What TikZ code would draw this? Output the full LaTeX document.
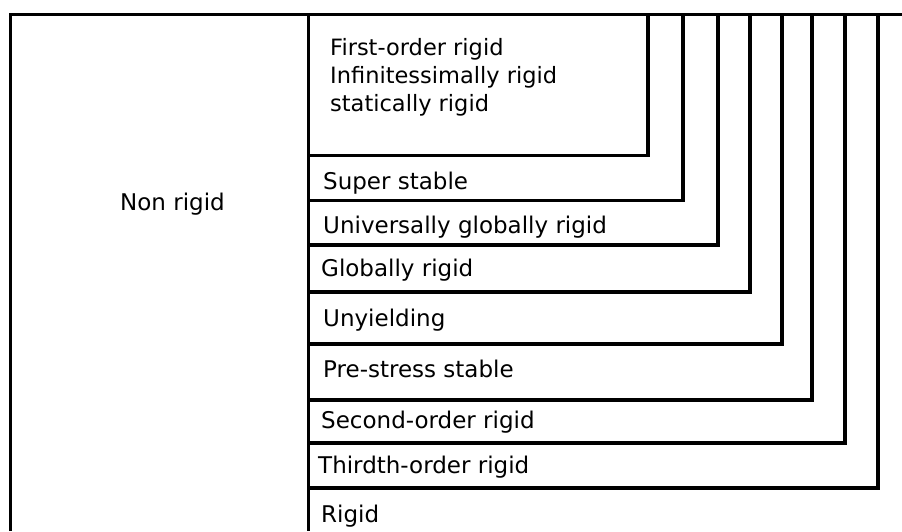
\documentclass[tikz,border=0pt]{standalone}
\usepackage{fontspec}
\setmainfont{DejaVu Sans}
\begin{document}
\begin{tikzpicture}[x=1pt,y=-1pt,
  frame/.style={line width=3.3pt,line join=miter,black},
  label/.style={anchor=base west,inner sep=0pt,font=\fontsize{23}{28}\selectfont},
  toplabel/.style={label,font=\fontsize{22.5}{28}\selectfont}]
\useasboundingbox (0,0) rectangle (902,531);
% outer frame: top edge, left edge and the dividing column line
\draw[frame] (10.5,531) -- (10.5,14.5) -- (902,14.5);
\draw[frame] (308.5,14.5) -- (308.5,531);
% nested classes, each open to the top and the left
\foreach \r/\b in {648/155.5, 683/200.5, 718/245, 750/292, 782/344, 812/400, 845/443, 878/488}
  \draw[frame] (308.5,\b) -- (\r,\b) -- (\r,14.5);
% labels
\node[label] (nonrigid) at (120,210) {Non rigid};
\node[toplabel] (first) at (330,55) {First-order rigid};
\node[toplabel] (inf) at (330,83) {Infinitessimally rigid};
\node[toplabel] (stat) at (330,111) {statically rigid};
\node[label] (super) at (323,189) {Super stable};
\node[label] (univ) at (323,233) {Universally globally rigid};
\node[label] (glob) at (321,276) {Globally rigid};
\node[label] (unyi) at (323,326) {Unyielding};
\node[label] (pre) at (323,377) {Pre-stress stable};
\node[label] (second) at (321,428) {Second-order rigid};
\node[label] (third) at (318,473) {Thirdth-order rigid};
\node[label] (rigid) at (321,522) {Rigid};
\end{tikzpicture}
\end{document}
